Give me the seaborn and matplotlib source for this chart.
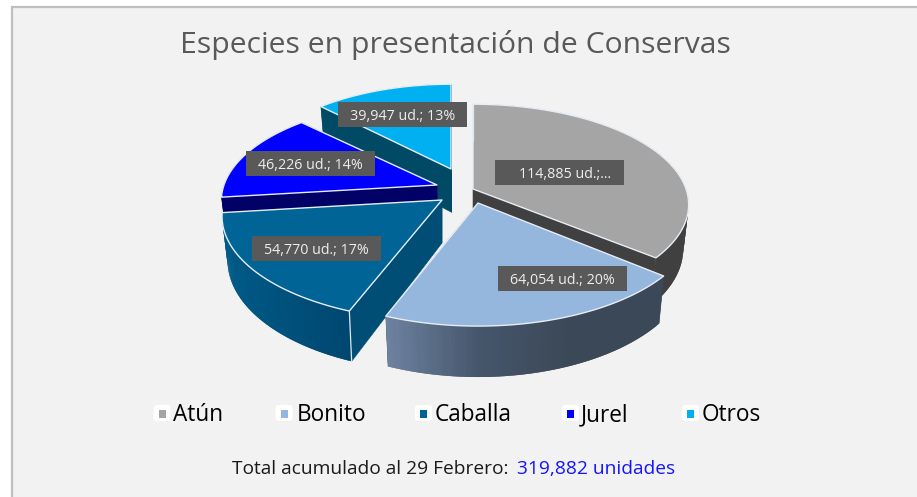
import numpy as np
import matplotlib
matplotlib.use('Agg')
import matplotlib.pyplot as plt
from matplotlib.patches import Polygon, Rectangle, FancyBboxPatch
import seaborn as sns

species = ['Atún', 'Bonito', 'Caballa', 'Jurel', 'Otros']
units = [114885, 64054, 54770, 46226, 39947]
slice_labels = ['114,885 ud.;...', '64,054 ud.; 20%', '54,770 ud.; 17%', '46,226 ud.; 14%', '39,947 ud.; 13%']
title_text = 'Especies en presentación de Conservas'
total_text = 'Total acumulado al 29 Febrero:'
total_units = '319,882 unidades'

top_colors = ['#a5a5a5', '#95b6dd', '#006496', '#0000ff', '#00b0f0']
wall_colors = ['#404040', '#3b4857', '#004e75', '#000066', '#004a66']
rim_colors = [['#404040', '#404040'], ['#6d829f', '#45566b', '#3b4857', '#3b4857'],
              ['#005a87', '#004770'], ['#000066', '#000066'], ['#004a66', '#004a66']]

# exploded pie layout, in pixels
apex = [(473, 189), (478, 203), (442, 200), (437, 185), (451, 169)]
slice_scale = [(1, 1), (1.015, 1.06), (1.02, 1.04), (1, 1), (0.96, 1)]
RX, RY, PERSP, DEPTH, BOTTOM = 213, 98, 0.156, 43, 0.975
draw_order = [4, 3, 0, 2, 1]
label_centers = [(559.5, 172.5), (562.5, 278.5), (316.5, 248.5), (310.5, 163.5), (402.5, 114.5)]
label_nudge = [6, 0, 0, 0, 0]
legend_boxes = [153.5, 275.5, 415, 562, 682]
legend_text_x = [173, 297, 435, 581, 702]

sns.set_theme(style='white')
plt.rcParams['font.family'] = ['Open Sans', 'DejaVu Sans']

fig = plt.figure(figsize=(9.17, 4.97), dpi=100, facecolor='white')
ax = fig.add_axes([0, 0, 1, 1])
ax.set_xlim(0, 917)
ax.set_ylim(497, 0)
ax.axis('off')

ax.add_patch(Rectangle((11.5, 7), 920, 500, facecolor='#f2f2f2', edgecolor='#bfbfbf', linewidth=1.6, zorder=0))


def rim_point(center, scale, theta, lower=False):
    # theta runs clockwise from the back of the pie
    u, v = np.sin(theta), -np.cos(theta)
    s = 1 / (1 - PERSP * v)
    x = RX * scale[0] * u * s
    y = RY * scale[1] * v * s
    if lower:
        return center[0] + x * BOTTOM, center[1] + y + DEPTH * s
    return center[0] + x, center[1] + y


fractions = np.cumsum([0] + units) / sum(units)
angles = fractions * 2 * np.pi
z = 2
for i in draw_order:
    c = apex[i]
    sc = slice_scale[i]
    th = np.linspace(angles[i], angles[i + 1], 90)
    top = np.array([rim_point(c, sc, t) for t in th])
    low = np.array([rim_point(c, sc, t, True) for t in th])
    c_low = (c[0], c[1] + DEPTH)

    # the two cut faces
    for k in (0, -1):
        ax.add_patch(Polygon([c, top[k], low[k], c_low], facecolor=wall_colors[i],
                             edgecolor=wall_colors[i], linewidth=0.4, zorder=z))
    # outer rim with a left-right gradient, strips overlap so no seams show
    grad = sns.blend_palette(rim_colors[i], 60)
    x0, x1 = top[:, 0].min(), top[:, 0].max()
    for k in range(len(th) - 1):
        f = (top[k, 0] - x0) / (x1 - x0)
        col = grad[min(int(f * 59), 59)]
        e = min(k + 3, len(th))
        ax.add_patch(Polygon(np.vstack([top[k:e], low[k:e][::-1]]), facecolor=col,
                             edgecolor='none', linewidth=0, zorder=z))
    z += 1
    # top face
    ax.add_patch(Polygon(np.vstack([[c], top]), closed=True, facecolor=top_colors[i],
                         edgecolor='#e6edf4', linewidth=1.0, joinstyle='round', zorder=z))
    if i in (2, 0):
        ax.plot([top[0, 0], low[0, 0]], [top[0, 1], low[0, 1]], color='#dfe8ef', lw=0.9, zorder=z)
    z += 1

# data labels
for i, lab in enumerate(slice_labels):
    cx, cy = label_centers[i]
    ax.add_patch(Rectangle((cx - 64.5, cy - 12.5), 129, 25, facecolor='#595959', edgecolor='none', zorder=30))
    ax.text(cx + label_nudge[i], cy, lab, color='#eeeeee', fontsize=10.3, ha='center', va='center_baseline', zorder=31)

ax.text(455.5, 42, title_text, color='#595959', fontsize=21.7, ha='center', va='center_baseline', zorder=31)

# legend
for i, name in enumerate(species):
    bx = legend_boxes[i]
    ax.add_patch(FancyBboxPatch((bx + 1.5, 406.5), 14, 13, boxstyle='round,pad=1.5,rounding_size=3',
                                facecolor='white', edgecolor='none', zorder=30))
    ax.add_patch(Rectangle((bx + 5, 410), 7, 8, facecolor=top_colors[i], edgecolor='none', zorder=31))
    ax.text(legend_text_x[i], 421, name, color='black', fontsize=16.3, ha='left', va='baseline', zorder=31)

ax.text(232, 467, total_text, color='#1a1a1a', fontsize=13.8, ha='left', va='center_baseline', zorder=31)
ax.text(517, 467, total_units, color='#1414ff', fontsize=13.8, ha='left', va='center_baseline', zorder=31)

fig.savefig('out.png', dpi=100, facecolor='white')
